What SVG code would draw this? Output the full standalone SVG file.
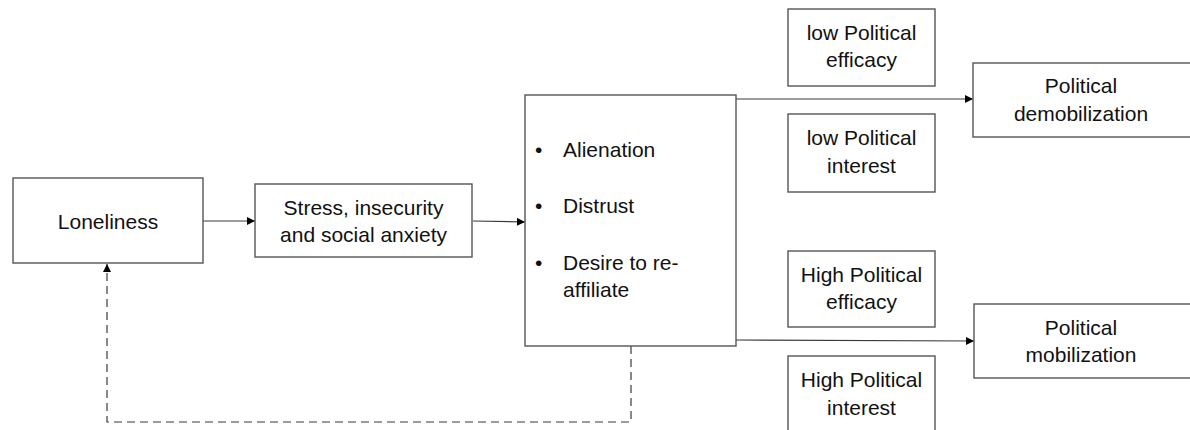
<svg xmlns="http://www.w3.org/2000/svg" width="1190" height="430" viewBox="0 0 1190 430">
  <style>
    .box { fill: #ffffff; stroke: #555555; stroke-width: 1.4; }
    .lbl { font-family: "Liberation Sans", Arial, sans-serif; font-size: 21px; fill: #111111; text-anchor: middle; }
    .lst { font-family: "Liberation Sans", Arial, sans-serif; font-size: 21px; fill: #111111; }
    .conn { fill: none; stroke: #3a3a3a; stroke-width: 1.2; }
    .dash { stroke-dasharray: 8 5; }
  </style>
  <defs>
    <marker id="arr" viewBox="0 0 10 10" refX="10" refY="5" markerWidth="9" markerHeight="8" markerUnits="userSpaceOnUse" orient="auto">
      <path d="M0,0 L10,5 L0,10 Z" fill="#000000"/>
    </marker>
  </defs>
  <rect width="1190" height="430" fill="#ffffff"/>

  <g id="connectors">
    <line class="conn" x1="203" y1="221" x2="255" y2="221" marker-end="url(#arr)"/>
    <line class="conn" x1="473" y1="221" x2="525" y2="222" marker-end="url(#arr)"/>
    <line class="conn" x1="736" y1="99" x2="973" y2="99" marker-end="url(#arr)"/>
    <line class="conn" x1="736" y1="340" x2="974" y2="341" marker-end="url(#arr)"/>
    <polyline class="conn dash" points="631,346 631,422 107,422 107,264" marker-end="url(#arr)"/>
  </g>

  <g id="loneliness">
    <rect class="box" x="13" y="178" width="190" height="85"/>
    <text class="lbl" x="108" y="229">Loneliness</text>
  </g>

  <g id="stress">
    <rect class="box" x="255" y="184" width="217" height="73"/>
    <text class="lbl" x="363.5" y="215">Stress, insecurity</text>
    <text class="lbl" x="363.5" y="242">and social anxiety</text>
  </g>

  <g id="mediators">
    <rect class="box" x="525" y="95" width="211" height="251"/>
    <text class="lst" x="535" y="157">•</text>
    <text class="lst" x="563" y="157">Alienation</text>
    <text class="lst" x="535" y="213">•</text>
    <text class="lst" x="563" y="213">Distrust</text>
    <text class="lst" x="535" y="270">•</text>
    <text class="lst" x="563" y="270">Desire to re-</text>
    <text class="lst" x="563" y="297">affiliate</text>
  </g>

  <g id="low-efficacy">
    <rect class="box" x="788" y="9" width="147" height="77"/>
    <text class="lbl" x="861.5" y="40">low Political</text>
    <text class="lbl" x="861.5" y="67">efficacy</text>
  </g>

  <g id="low-interest">
    <rect class="box" x="788" y="114" width="147" height="78"/>
    <text class="lbl" x="861.5" y="145">low Political</text>
    <text class="lbl" x="861.5" y="173">interest</text>
  </g>

  <g id="high-efficacy">
    <rect class="box" x="788" y="251" width="147" height="76"/>
    <text class="lbl" x="861.5" y="282">High Political</text>
    <text class="lbl" x="861.5" y="309">efficacy</text>
  </g>

  <g id="high-interest">
    <rect class="box" x="788" y="356" width="147" height="84"/>
    <text class="lbl" x="861.5" y="387">High Political</text>
    <text class="lbl" x="861.5" y="415">interest</text>
  </g>

  <g id="demobilization">
    <rect class="box" x="973" y="63" width="218" height="74"/>
    <text class="lbl" x="1081" y="93">Political</text>
    <text class="lbl" x="1081" y="121">demobilization</text>
  </g>

  <g id="mobilization">
    <rect class="box" x="974" y="304" width="217" height="74"/>
    <text class="lbl" x="1081" y="335">Political</text>
    <text class="lbl" x="1081" y="362">mobilization</text>
  </g>
</svg>
